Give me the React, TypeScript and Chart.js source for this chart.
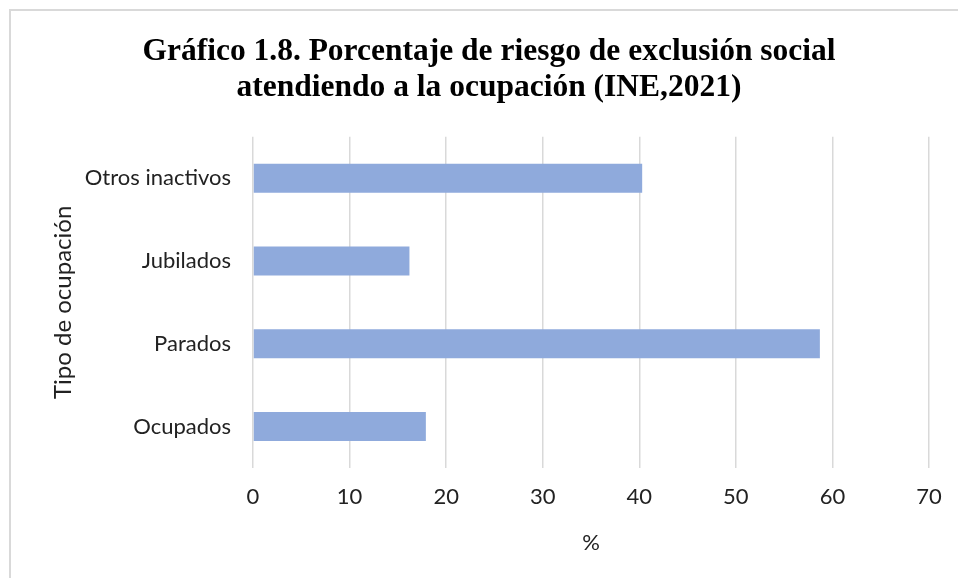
import React, { useEffect, useRef } from "react";
import { Chart, registerables } from "chart.js";

Chart.register(...registerables);

const categories = ["Otros inactivos", "Jubilados", "Parados", "Ocupados"];
const values = [40.3, 16.2, 58.7, 17.9];
const titleLines = [
  "Gráfico 1.8. Porcentaje de riesgo de exclusión social",
  "atendiendo a la ocupación (INE,2021)",
];
const xTitle = "%";
const yTitle = "Tipo de ocupación";

export default function App() {
  const ref = useRef<HTMLCanvasElement | null>(null);
  useEffect(() => {
    if (!ref.current) return;
    const tickFont = { family: "Lato, 'Open Sans', sans-serif", size: 22 };
    const chart = new Chart(ref.current, {
      type: "bar",
      data: {
        labels: categories,
        datasets: [
          {
            data: values,
            backgroundColor: "#8faadc",
            borderWidth: 0,
            barPercentage: 0.35,
            categoryPercentage: 1,
          },
        ],
      },
      options: {
        indexAxis: "y",
        animation: false,
        responsive: false,
        maintainAspectRatio: false,
        layout: { padding: { left: 49, right: 29, top: 0, bottom: 22 } },
        plugins: {
          legend: { display: false },
          tooltip: { enabled: false },
          title: {
            display: true,
            text: titleLines,
            color: "#000",
            font: { family: "'Liberation Serif', 'Times New Roman', serif", size: 31.5, weight: "bold", lineHeight: 1.14 },
            padding: { top: 34, bottom: 31 },
          },
        },
        scales: {
          x: {
            min: 0,
            max: 70,
            ticks: { stepSize: 10, color: "#222", font: tickFont, padding: 16 },
            grid: { color: "#d9d9d9", lineWidth: 1.5, drawTicks: false },
            border: { display: false },
            title: { display: true, text: xTitle, color: "#222", font: tickFont, padding: { top: 10, bottom: 0 } },
            afterFit: (s: any) => {
              s.height = 88;
            },
          },
          y: {
            ticks: { color: "#222", font: tickFont, padding: 22 },
            grid: { display: false, drawTicks: false },
            border: { display: false },
            title: { display: true, text: yTitle, color: "#222", font: { family: "Lato, 'Open Sans', sans-serif", size: 24 }, padding: 0 },
            afterFit: (s: any) => {
              s.width = 204;
            },
          },
        },
      },
    });
    return () => chart.destroy();
  }, []);
  return (
    <div style={{ position: "absolute", left: 0, top: 0, width: 958, height: 578, background: "#fff", overflow: "hidden" }}>
      <div
        style={{
          position: "absolute",
          left: 9,
          top: 9,
          width: 1000,
          height: 1000,
          border: "2px solid #d9d9d9",
          boxSizing: "border-box",
        }}
      />
      <canvas ref={ref} width={958} height={578} style={{ position: "absolute", left: 0, top: 0 }} />
    </div>
  );
}
